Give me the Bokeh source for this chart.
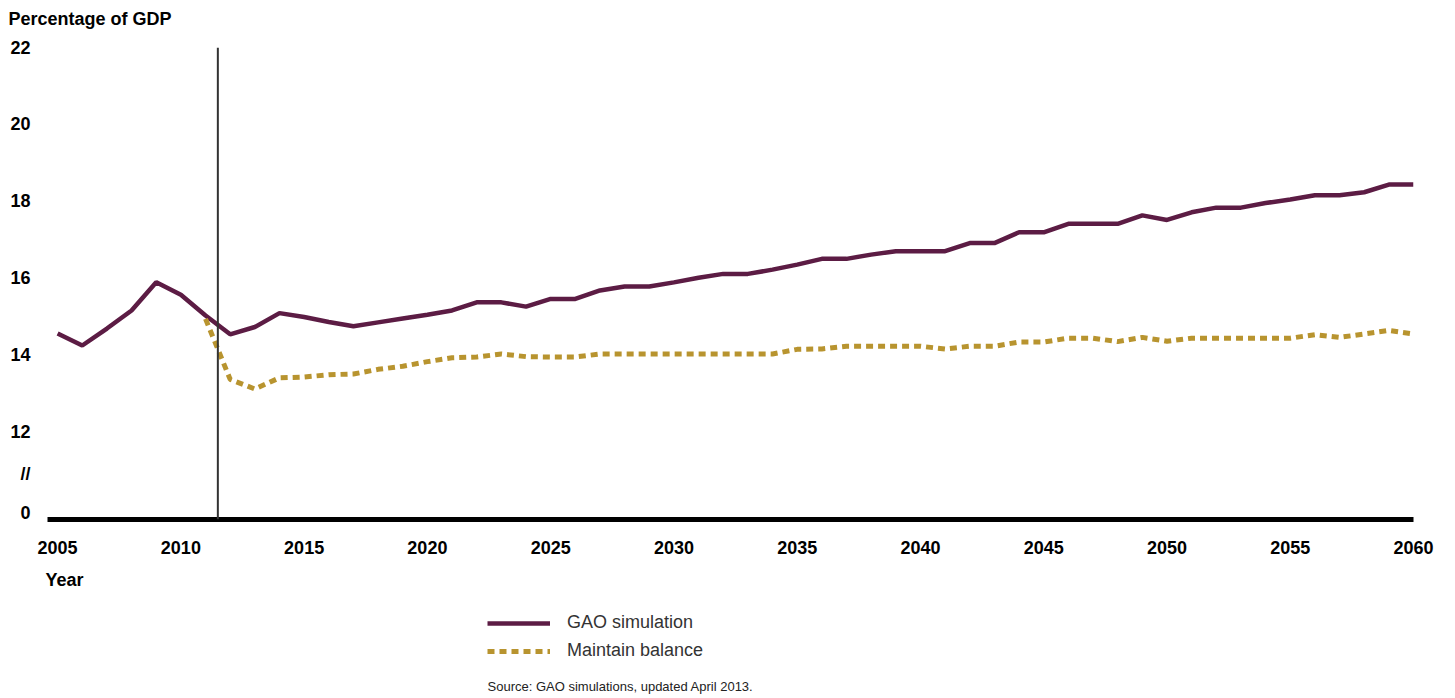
from bokeh.plotting import figure
from bokeh.layouts import column
from bokeh.models import Range1d, FixedTicker, Span, Legend, LegendItem, Title, Label
from bokeh.embed import file_html
from bokeh.resources import INLINE

# ---------------- data ----------------
years_gao = list(range(2005, 2061))
gao_simulation = [14.57, 14.26, 14.70, 15.17, 15.90, 15.58, 15.04, 14.55, 14.74, 15.10,
                  15.00, 14.87, 14.76, 14.86, 14.96, 15.06, 15.17, 15.38, 15.38, 15.27,
                  15.47, 15.47, 15.69, 15.79, 15.79, 15.90, 16.02, 16.12, 16.12, 16.23,
                  16.36, 16.51, 16.51, 16.62, 16.71, 16.71, 16.71, 16.92, 16.92, 17.20,
                  17.20, 17.42, 17.42, 17.42, 17.64, 17.52, 17.72, 17.84, 17.84, 17.96,
                  18.05, 18.16, 18.16, 18.24, 18.44, 18.44]
years_balance = list(range(2011, 2061))
maintain_balance = [14.95, 13.38, 13.13, 13.42, 13.44, 13.50, 13.52, 13.64, 13.72, 13.84,
                    13.94, 13.96, 14.04, 13.97, 13.96, 13.96, 14.04, 14.04, 14.04, 14.04,
                    14.04, 14.04, 14.04, 14.04, 14.16, 14.17, 14.24, 14.24, 14.24, 14.24,
                    14.17, 14.24, 14.24, 14.35, 14.35, 14.45, 14.45, 14.36, 14.47, 14.37,
                    14.45, 14.45, 14.45, 14.45, 14.45, 14.54, 14.47, 14.56, 14.65, 14.56]
series_names = ["GAO simulation", "Maintain balance"]
projection_start = 2011.5
x_ticks = list(range(2005, 2061, 5))
y_ticks = [12, 14, 16, 18, 20, 22]
y_zero_tick = 9.9
y_zero_label = "0"
y_break_tick = 10.93
y_break_label = "//"
y_title = "Percentage of GDP"
x_title = "Year"
source_text = "Source: GAO simulations, updated April 2013."

# ---------------- styling ----------------
GAO_COLOR = "#5c1c44"
BAL_COLOR = "#b8942f"
FONT = "Liberation Sans"

X0, X1 = 2004.59, 2060.0
Y0, Y1 = 9.74, 22.0
W = 1440
H1 = 600
H2 = 96
BL, BT = 47, 47
BR = W - 1413
BB = H1 - 519

p = figure(width=W, height=H1, output_backend="svg", toolbar_location=None,
           x_range=Range1d(X0, X1), y_range=Range1d(Y0, Y1), title=None,
           min_border_left=BL, min_border_right=BR, min_border_top=BT, min_border_bottom=BB)
p.outline_line_color = None
p.xgrid.visible = False
p.ygrid.visible = False
p.background_fill_color = "white"
p.border_fill_color = "white"

xa = p.xaxis[0]
xa.ticker = FixedTicker(ticks=x_ticks)
xa.axis_line_width = 5
xa.axis_line_color = "black"
xa.major_tick_line_color = None
xa.minor_tick_line_color = None
xa.major_tick_out = 0
xa.major_label_standoff = 21
xa.major_label_text_font = FONT
xa.major_label_text_font_style = "bold"
xa.major_label_text_font_size = "18px"
xa.major_label_text_color = "black"

ya = p.yaxis[0]
ya.ticker = FixedTicker(ticks=[y_zero_tick, y_break_tick] + y_ticks)
ya.major_label_overrides = {y_zero_tick: y_zero_label, y_break_tick: y_break_label}
ya.axis_line_color = None
ya.major_tick_line_color = None
ya.minor_tick_line_color = None
ya.major_tick_out = 0
ya.major_label_standoff = 17
ya.major_label_text_font = FONT
ya.major_label_text_font_style = "bold"
ya.major_label_text_font_size = "18px"
ya.major_label_text_color = "black"

p.add_layout(Span(location=projection_start, dimension="height",
                  line_color="#333333", line_width=2))

r_gao = p.line(years_gao, gao_simulation, line_color=GAO_COLOR, line_width=4.5)
r_bal = p.line(years_balance, maintain_balance, line_color=BAL_COLOR, line_width=5,
               line_dash="7 5")

# spacer (closest to frame) then the y title
p.add_layout(Title(text="\u00a0", text_font_size="8px", standoff=8,
                   text_color="white"), "above")
p.add_layout(Title(text=y_title, align="left", offset=8 - BL, standoff=0,
                   text_font=FONT, text_font_style="bold", text_font_size="18px",
                   text_color="black"), "above")
p.add_layout(Title(text=x_title, align="left", offset=45 - BL, standoff=22,
                   text_font=FONT, text_font_style="bold", text_font_size="18px",
                   text_color="black"), "below")

# ---- lower strip: legend and source note (frame is aligned with the main plot) ----
q = figure(width=W, height=H2, output_backend="svg", toolbar_location=None,
           x_range=Range1d(BL, W - BR), y_range=Range1d(H2, 0), title=None,
           x_axis_type=None, y_axis_type=None,
           min_border_left=BL, min_border_right=BR, min_border_top=0, min_border_bottom=0)
q.outline_line_color = None
q.xgrid.visible = False
q.ygrid.visible = False
q.background_fill_color = "white"
q.border_fill_color = "white"

# legend proxies (same series; they fall outside this strip's visible range)
k_gao = q.line(years_gao, gao_simulation, line_color=GAO_COLOR, line_width=4.5)
k_bal = q.line(years_balance, maintain_balance, line_color=BAL_COLOR, line_width=5,
               line_dash="7 5")

legend = Legend(items=[LegendItem(label=series_names[0], renderers=[k_gao]),
                       LegendItem(label=series_names[1], renderers=[k_bal])],
                location=(487 - BL, 35),
                glyph_width=63, glyph_height=20, label_height=20, spacing=7,
                label_standoff=17, padding=0, margin=0,
                label_text_font=FONT, label_text_font_size="18px", label_text_color="#333333",
                border_line_color=None, background_fill_alpha=0)
q.add_layout(legend)

q.add_layout(Label(x=487, y=86, text=source_text, text_font=FONT,
                   text_font_size="13px", text_color="#222222",
                   text_baseline="middle", text_align="left"))

open("out.html", "w").write(file_html(column(p, q, spacing=0), INLINE))
